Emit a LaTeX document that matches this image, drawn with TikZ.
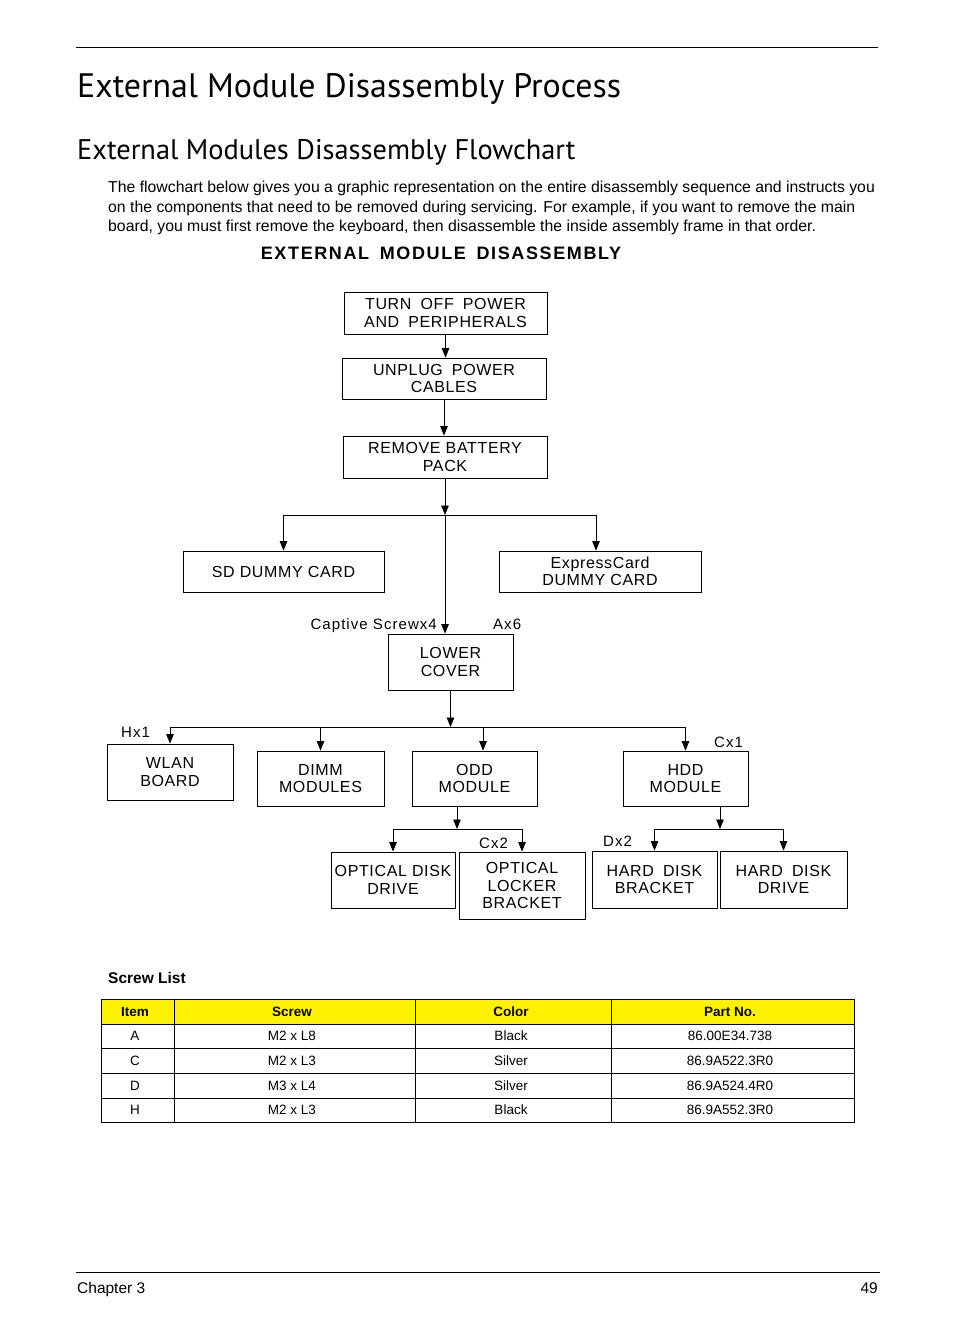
\documentclass[tikz,border=0pt]{standalone}
\usepackage{fontspec}
\setmainfont{Liberation Sans}
\newfontfamily\headfont{PT Sans}
\newfontfamily\boxfont[LetterSpace=4]{Liberation Sans}
\newfontfamily\tagfont[LetterSpace=7]{Liberation Sans}
\newfontfamily\capsfont[LetterSpace=9]{Liberation Sans}
\usetikzlibrary{arrows.meta}
\newcommand{\wsp}{\ \hspace{4pt}}
\tikzstyle{stepbox} = [rectangle, draw=black, line width=0.8pt, align=center, inner sep=0pt, font=\boxfont\fontsize{16}{17.5}\selectfont]
\tikzstyle{wide} = [stepbox, minimum width=203pt, minimum height=42pt]
\tikzstyle{part} = [stepbox, minimum width=126pt, minimum height=56pt]
\tikzstyle{screw} = [inner sep=0pt, font=\tagfont\fontsize{15}{17}\selectfont]
\tikzstyle{arrow} = [line width=0.8pt, -{Triangle[length=9.5pt,width=7.5pt]}]
\tikzstyle{rule} = [line width=0.8pt]
\tikzstyle{cell} = [anchor=base, inner sep=0pt, font=\fontsize{13.5}{15}\selectfont]
\tikzstyle{headcell} = [cell, font=\bfseries\fontsize{13.5}{15}\selectfont]

\begin{document}
\begin{tikzpicture}[x=1pt, y=-1pt]
\useasboundingbox (0,0) rectangle (954,1336);

% page heading
\draw [rule] (76,47) -- (878,47);
\node (title) [anchor=base west, inner sep=0pt, font=\headfont\fontsize{33.9}{36}\selectfont] at (77,97) {External Module Disassembly Process};
\node (subtitle) [anchor=base west, inner sep=0pt, font=\headfont\fontsize{28.4}{30}\selectfont] at (77,159) {External Modules Disassembly Flowchart};
\node (intro) [anchor=north west, inner sep=0pt, align=left, font=\fontsize{15.8}{19.5}\selectfont] at (108,181) {The flowchart below gives you a graphic representation on the entire disassembly sequence and instructs you\\on the components that need to be removed during servicing. For example, if you want to remove the main\\board, you must first remove the keyboard, then disassemble the inside assembly frame in that order.};
\node (heading) [anchor=base, inner sep=0pt, font=\capsfont\bfseries\fontsize{18}{20}\selectfont] at (441,259.5) {EXTERNAL\wsp MODULE\wsp DISASSEMBLY};

% flowchart
\node (power) [wide] at (445.5,313) {TURN\wsp OFF\wsp POWER\\AND\wsp PERIPHERALS};
\node (unplug) [wide, minimum width=204pt, minimum height=41pt] at (444,378.5) {UNPLUG\wsp POWER\\CABLES};
\node (battery) [wide, minimum width=204pt] at (445,457) {REMOVE BATTERY\\PACK};
\node (sd) [wide, minimum width=201pt, minimum height=41pt] at (283.5,571.5) {SD DUMMY CARD};
\node (express) [wide, minimum width=202pt, minimum height=41pt] at (600,571.5) {ExpressCard\\DUMMY CARD};
\node (lower) [part, minimum width=125pt] at (450.5,662) {LOWER\\COVER};
\node (wlan) [part] at (170,772) {WLAN\\BOARD};
\node (dimm) [part, minimum width=127pt, minimum height=55pt] at (320.5,778.5) {DIMM\\MODULES};
\node (odd) [part, minimum width=125pt, minimum height=55pt] at (474.5,778.5) {ODD\\MODULE};
\node (hdd) [part, minimum width=125pt, minimum height=55pt] at (685.5,778.5) {HDD\\MODULE};
\node (odrive) [part, minimum width=124pt] at (393,880) {OPTICAL DISK\\DRIVE};
\node (locker) [part, minimum height=67pt] at (522,885.5) {OPTICAL\\LOCKER\\BRACKET};
\node (hbracket) [part, minimum width=125pt, minimum height=57pt] at (654.5,879.5) {HARD\wsp DISK\\BRACKET};
\node (hdrive) [part, minimum width=127pt, minimum height=57pt] at (783.5,879.5) {HARD\wsp DISK\\DRIVE};

% screw counts
\node (captive) [screw, anchor=base east] at (437,629) {Captive Screwx4};
\node (ax6) [screw, anchor=base west] at (493,629) {Ax6};
\node (hx1) [screw, anchor=base west] at (121,737) {Hx1};
\node (cx1) [screw, anchor=base west] at (714,747) {Cx1};
\node (cx2) [screw, anchor=base west] at (479,848) {Cx2};
\node (dx2) [screw, anchor=base west] at (603,846) {Dx2};

\coordinate (split1) at (445,515);
\coordinate (split2) at (450.5,727);
\coordinate (split3) at (457,829);
\coordinate (split4) at (720,829);

\draw [arrow] (power) -- (power |- unplug.north);
\draw [arrow] (unplug) -- (unplug |- battery.north);
\draw [arrow] (battery) -- (split1);
\draw [arrow] (split1) -| (sd.north);
\draw [arrow] (split1) -| ([xshift=-4pt]express.north);
\draw [arrow] (split1) -- (split1 |- lower.north);
\draw [arrow] (lower) -- (split2);
\draw [arrow] (split2) -| (wlan.north);
\draw [arrow] (split2) -| (dimm.north);
\draw [arrow] (split2) -| ([xshift=8.5pt]odd.north);
\draw [arrow] (split2) -| (hdd.north);
\draw [arrow] (split3 |- odd.south) -- (split3);
\draw [arrow] (split3) -| (odrive.north);
\draw [arrow] (split3) -| (locker.north);
\draw [arrow] (split4 |- hdd.south) -- (split4);
\draw [arrow] (split4) -| (hbracket.north);
\draw [arrow] (split4) -| (hdrive.north);

% screw list
\node (screwlist) [anchor=base west, inner sep=0pt, font=\bfseries\fontsize{15.5}{18}\selectfont] at (108,983) {Screw List};
\fill [yellow] (101,999) rectangle (854,1024);
\draw [rule] (101,999) rectangle (854,1122);
\draw [rule] (101,1024) -- (854,1024);
\draw [rule] (101,1048) -- (854,1048);
\draw [rule] (101,1073) -- (854,1073);
\draw [rule] (101,1098) -- (854,1098);
\draw [rule] (174.5,999) -- (174.5,1122);
\draw [rule] (415.5,999) -- (415.5,1122);
\draw [rule] (611,999) -- (611,1122);
\node (h1) [headcell] at (135,1016) {Item};
\node (h2) [headcell] at (292,1016) {Screw};
\node (h3) [headcell] at (511,1016) {Color};
\node (h4) [headcell] at (730,1016) {Part No.};
\node (a1) [cell] at (135,1040.5) {A};
\node (a2) [cell] at (292,1040.5) {M2 x L8};
\node (a3) [cell] at (511,1040.5) {Black};
\node (a4) [cell] at (730,1040.5) {86.00E34.738};
\node (c1) [cell] at (135,1065) {C};
\node (c2) [cell] at (292,1065) {M2 x L3};
\node (c3) [cell] at (511,1065) {Silver};
\node (c4) [cell] at (730,1065) {86.9A522.3R0};
\node (d1) [cell] at (135,1090) {D};
\node (d2) [cell] at (292,1090) {M3 x L4};
\node (d3) [cell] at (511,1090) {Silver};
\node (d4) [cell] at (730,1090) {86.9A524.4R0};
\node (e1) [cell] at (135,1114.5) {H};
\node (e2) [cell] at (292,1114.5) {M2 x L3};
\node (e3) [cell] at (511,1114.5) {Black};
\node (e4) [cell] at (730,1114.5) {86.9A552.3R0};

% page footer
\draw [rule] (76,1272) -- (880,1272);
\node (chapter) [anchor=base west, inner sep=0pt, font=\fontsize{15.5}{18}\selectfont] at (77,1293) {Chapter 3};
\node (page) [anchor=base east, inner sep=0pt, font=\fontsize{15.5}{18}\selectfont] at (878,1293) {49};
\end{tikzpicture}
\end{document}
